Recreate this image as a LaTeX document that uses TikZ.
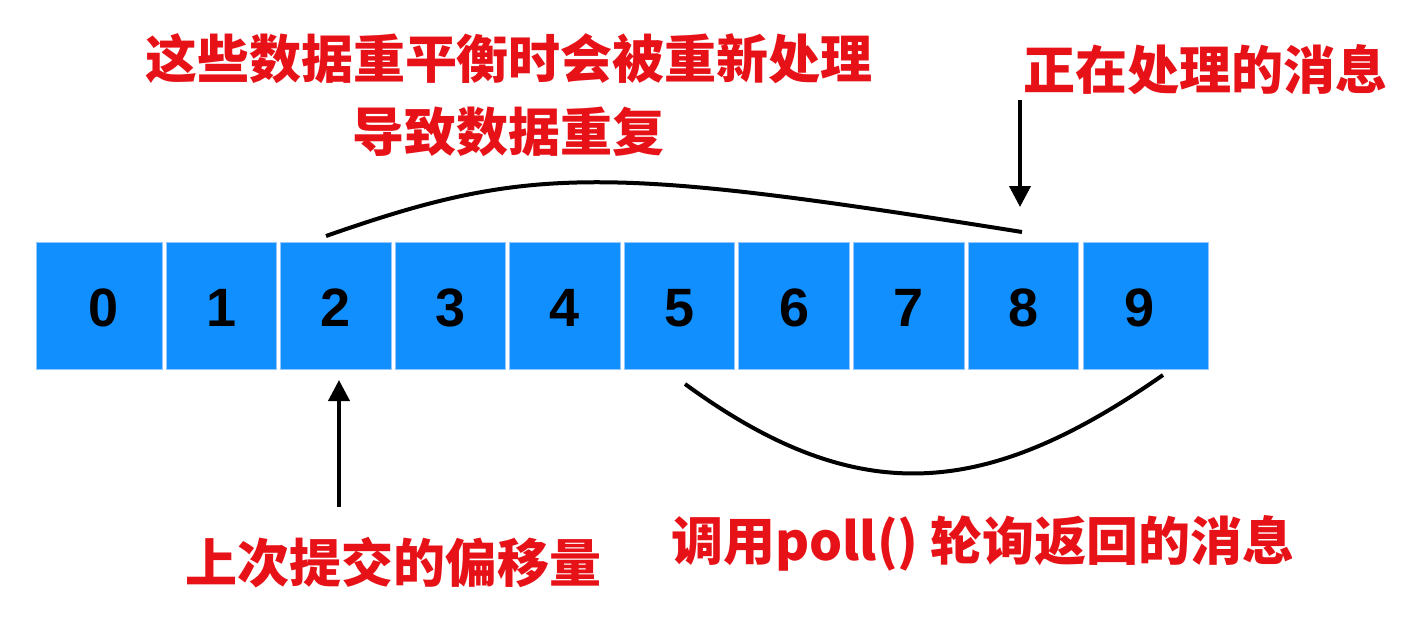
\documentclass[tikz,border=0pt]{standalone}
\usepackage{fontspec}
\setmainfont{Liberation Sans}
\newfontfamily\cjk{Noto Sans CJK SC}
\usetikzlibrary{arrows.meta}
\definecolor{boxblue}{RGB}{18,143,255}
\definecolor{boxedge}{RGB}{150,200,255}
\definecolor{labred}{RGB}{230,18,24}
\tikzset{
  cell/.style={rectangle, fill=boxblue, draw=boxedge, line width=0.8pt, inner sep=0pt, minimum height=127pt},
  digit/.style={font=\fontsize{54}{54}\selectfont\bfseries, text=black, inner sep=0pt},
  lab/.style={font=\cjk\bfseries\fontsize{52}{52}\selectfont, text=labred, inner sep=0pt},
  arcline/.style={line width=4pt, black},
  ptr/.style={line width=4pt, black, -{Triangle[width=21pt,length=21pt]}},
}
\begin{document}
\begin{tikzpicture}[x=1pt,y=-1pt]
\useasboundingbox (0,0) rectangle (1428,624);
% cells
\node[cell, minimum width=126pt] (b0) at (99,305.5) {};
\foreach \i in {1,...,8}{
  \pgfmathsetmacro{\cx}{166+114.57*(\i-1)+55.25}
  \node[cell, minimum width=110.5pt] (b\i) at (\cx,305.5) {};
}
\node[cell, minimum width=125pt] (b9) at (1145.5,305.5) {};
% digits
\node[digit] (n0) at (104,308) {0};
\foreach \i in {1,...,8}{
  \pgfmathsetmacro{\cx}{166+114.57*(\i-1)+55.25}
  \node[digit] (n\i) at (\cx,308) {\i};
}
\node[digit] (n9) at (1140,308) {9};
% labels
\node[lab] (t1) at (509,59) {这些数据重平衡时会被重新处理};
\node[lab] (t2) at (508,132) {导致数据重复};
\node[lab] (t3) at (1205,70) {正在处理的消息};
\node[lab] (t4) at (393,563) {上次提交的偏移量};
\node[lab] (t5) at (983,543) {调用poll() 轮询返回的消息};
% arc ends and arrow ends
\coordinate (a1) at (326,236);
\coordinate (a2) at (1022,232);
\coordinate (c1) at (685,384);
\coordinate (c2) at (1163,375);
\coordinate (d1) at (1020,100);
\coordinate (d2) at (1020,207);
\coordinate (u1) at (339,507);
\coordinate (u2) at (339,380);
\draw[arcline] (a1) .. controls (529,165) and (602,165) .. (a2);
\draw[arcline] (c1) .. controls (860,512) and (988,497) .. (c2);
\draw[ptr] (d1) -- (d2);
\draw[ptr] (u1) -- (u2);
\end{tikzpicture}
\end{document}
